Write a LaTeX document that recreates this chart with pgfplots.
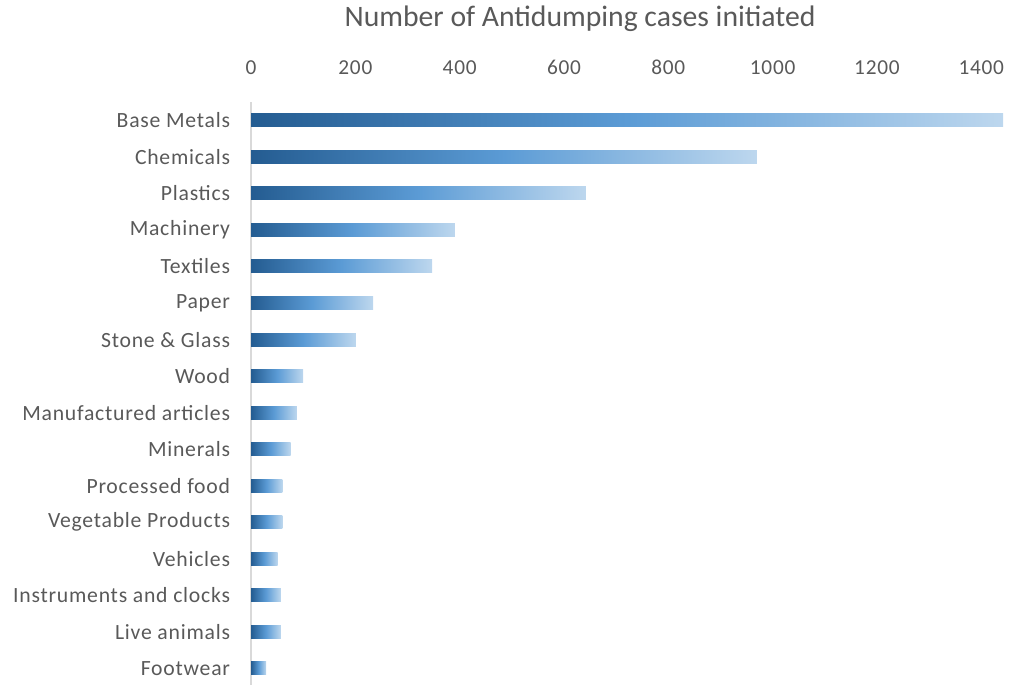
\documentclass[border=0pt]{standalone}
\usepackage{fontspec}
\setmainfont{Carlito}
\newfontfamily\lblfont{Carlito}[LetterSpace=3.5]
\usepackage{pgfplots}
\pgfplotsset{compat=1.18}

\definecolor{txt}{HTML}{595959}
\definecolor{axgray}{HTML}{D9D9D9}
\definecolor{bdark}{HTML}{245C91}
\definecolor{bmid}{HTML}{5B9BD5}
\definecolor{blight}{HTML}{BDD7EE}

% one bar per plot so that every bar gets its own gradient
\pgfplotsset{gbar/.style={draw=none, left color=bdark, right color=blight, middle color=bmid}}

\begin{document}
\begin{tikzpicture}
\begin{axis}[
  scale only axis,
  width=568.1pt, height=437.8pt,
  xmin=0, xmax=1450,
  ymin=-0.5, ymax=15.45,
  y dir=reverse,
  xbar, bar width=9.75pt, bar shift=0pt,
  axis line style={draw=none},
  xtick={0,200,...,1400},
  xticklabel pos=upper,
  xtick style={draw=none}, ytick style={draw=none},
  extra x ticks={0}, extra x tick labels={},
  extra x tick style={grid=major, major grid style={axgray, line width=1.2pt}},
  ytick={0,...,15},
  yticklabels={Base Metals, Chemicals, Plastics, Machinery, Textiles, Paper,
    Stone \& Glass, Wood, Manufactured articles, Minerals, Processed food,
    Vegetable Products, Vehicles, Instruments and clocks, Live animals, Footwear},
  /pgf/number format/assume math mode=true,
  scaled x ticks=false,
  x tick label style={font=\lblfont\fontsize{16}{18}\selectfont, text=txt, yshift=17.3pt,
    /pgf/number format/1000 sep={}},
  y tick label style={font=\lblfont\fontsize{16.3}{18}\selectfont, text=txt, xshift=-8pt},
  title={Number of Antidumping cases initiated},
  title style={at={(axis description cs:0.435,1)}, anchor=base, yshift=50.9pt,
    inner sep=0pt, font=\fontsize{22.3}{26}\selectfont, text=txt},
]
\addplot[gbar] coordinates {(1442,0)};
\addplot[gbar] coordinates {(970,1)};
\addplot[gbar] coordinates {(642,2)};
\addplot[gbar] coordinates {(391,3)};
\addplot[gbar] coordinates {(347,4)};
\addplot[gbar] coordinates {(234,5)};
\addplot[gbar] coordinates {(201,6)};
\addplot[gbar] coordinates {(100,7)};
\addplot[gbar] coordinates {(88,8)};
\addplot[gbar] coordinates {(76,9)};
\addplot[gbar] coordinates {(60,10)};
\addplot[gbar] coordinates {(60,11)};
\addplot[gbar] coordinates {(51,12)};
\addplot[gbar] coordinates {(57,13)};
\addplot[gbar] coordinates {(57,14)};
\addplot[gbar] coordinates {(29,15)};
\end{axis}
\path (current axis.south west) ++(-188.6pt,0pt);
\path (current axis.north east) ++(3pt,76.65pt);
\end{tikzpicture}
\end{document}
